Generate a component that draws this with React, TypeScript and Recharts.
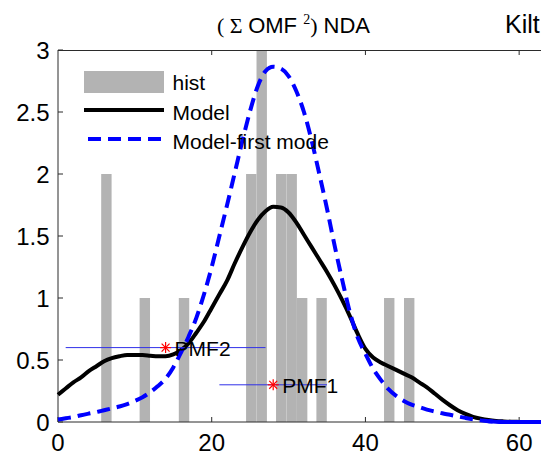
import React from 'react';
import { ComposedChart, Bar, Line, Scatter, ErrorBar, XAxis, YAxis, Legend } from 'recharts';

// ---- data ----
const histCenters = [6.3, 11.3, 16.4, 25.15, 26.51, 29.05, 30.41, 31.77, 34.3, 43.1, 45.7];
const histCounts = [2, 1, 1, 2, 3, 2, 2, 1, 1, 1, 1];

const curveX = [
  0, 1, 2, 3, 4, 5, 6, 7, 8, 9, 10, 11, 12, 13, 14, 15, 16, 17, 18, 19, 20,
  21, 22, 23, 24, 25, 26, 27, 28, 29, 30, 31, 32, 33, 34, 35, 36, 37, 38, 39, 40,
  41, 42, 43, 44, 45, 46, 47, 48, 49, 50, 51, 52, 53, 54, 55, 56, 57, 58, 59, 60,
  62, 66, 70,
];
const modelY = [
  0.22, 0.27, 0.32, 0.36, 0.41, 0.45, 0.49, 0.515, 0.53, 0.54, 0.54, 0.54, 0.535, 0.53, 0.53, 0.545, 0.58, 0.635, 0.72, 0.81, 0.92,
  1.03, 1.14, 1.28, 1.41, 1.53, 1.63, 1.7, 1.735, 1.73, 1.69, 1.61, 1.51, 1.41, 1.31, 1.21, 1.1, 0.98, 0.85, 0.71, 0.59,
  0.52, 0.48, 0.45, 0.42, 0.39, 0.36, 0.32, 0.28, 0.23, 0.18, 0.135, 0.095, 0.065, 0.042, 0.027, 0.016, 0.009, 0.005, 0.002, 0.001,
  0, 0, 0,
];
const firstModeY = [
  0.02, 0.03, 0.04, 0.055, 0.068, 0.08, 0.095, 0.11, 0.125, 0.145, 0.17, 0.2, 0.24, 0.29, 0.35, 0.44, 0.56, 0.69, 0.84, 1.03, 1.25,
  1.5, 1.75, 2.01, 2.27, 2.51, 2.71, 2.83, 2.865, 2.85, 2.79, 2.67, 2.5, 2.27, 2.0, 1.72, 1.42, 1.14, 0.88, 0.68, 0.55,
  0.43, 0.34, 0.265, 0.21, 0.17, 0.14, 0.12, 0.1, 0.085, 0.07, 0.058, 0.045, 0.033, 0.022, 0.013, 0.007, 0.003, 0.001, 0, 0,
  0, 0, 0,
];

const pmfNames = ['PMF2', 'PMF1'];
const pmfX = [14, 28];
const pmfY = [0.6, 0.3];
const pmfErr = [13, 7];

const xTicks = [0, 20, 40, 60];
const topTicks = [20, 40, 60];
const yTicks = [0, 0.5, 1, 1.5, 2, 2.5, 3];
const xMax = 70;
const yMax = 3;
const solidTailFrom = 56;
const legendLabels = ['hist', 'Model', 'Model-first mode'];
const titleParts = ['( \u03A3 ', 'OMF ', '2', ')', ' NDA'];
const sideTitle = 'Kilt';

// ---- derived tables ----
const histRows = histCenters.map((x, i) => ({ x, count: histCounts[i] }));
const curveRows = curveX.map((x, i) => ({
  x,
  model: modelY[i],
  first: firstModeY[i],
  tail: x >= solidTailFrom ? firstModeY[i] : null,
}));
const pmfRows = pmfX.map((x, i) => ({ x, y: pmfY[i], err: pmfErr[i], name: pmfNames[i] }));

// ---- layout ----
const W = 616;
const H = 455;
const PLOT_LEFT = 58;
const PLOT_TOP = 50;
const PLOT_RIGHT_MARGIN = 20;
const X_AXIS_H = 33;
const pxPerX = (W - PLOT_LEFT - PLOT_RIGHT_MARGIN) / xMax;

const SANS = 'Liberation Sans, Arial, sans-serif';
const SERIF = 'Liberation Serif, Times New Roman, serif';
const AXIS = '#2b2b2b';
const GRAY = '#b3b3b3';
const BLUE = '#0000ff';

const tickStyle = { fill: '#000', fontSize: 24, fontFamily: SANS };

const Star = (props: any) => {
  const { cx, cy, payload } = props;
  const r = 5.5;
  const d = r * 0.72;
  const s = { stroke: '#ff0000', strokeWidth: 1.2 };
  return (
    <g>
      <line x1={cx - r} y1={cy} x2={cx + r} y2={cy} {...s} />
      <line x1={cx} y1={cy - r} x2={cx} y2={cy + r} {...s} />
      <line x1={cx - d} y1={cy - d} x2={cx + d} y2={cy + d} {...s} />
      <line x1={cx - d} y1={cy + d} x2={cx + d} y2={cy - d} {...s} />
      <text x={cx + 9} y={cy + 8.5} fontSize={21} fontFamily={SANS} fill="#000">
        {payload.name}
      </text>
    </g>
  );
};

const renderLegend = () => (
  <svg width={300} height={92} style={{ display: 'block' }}>
    <rect x={4} y={7} width={80} height={22} fill={GRAY} />
    <text x={92.5} y={26} fontSize={21} fontFamily={SANS} fill="#000">{legendLabels[0]}</text>
    <line x1={4} x2={84} y1={46} y2={46} stroke="#000" strokeWidth={4} />
    <text x={92.5} y={56} fontSize={21} fontFamily={SANS} fill="#000">{legendLabels[1]}</text>
    <line x1={8} x2={84} y1={75} y2={75} stroke={BLUE} strokeWidth={4} strokeDasharray="13 7" />
    <text x={92.5} y={84.5} fontSize={21} fontFamily={SANS} fill="#000">{legendLabels[2]}</text>
  </svg>
);

export default function App() {
  return (
    <div
      style={{
        position: 'absolute',
        left: 0,
        top: 0,
        width: 541,
        height: 455,
        overflow: 'hidden',
        background: '#fff',
      }}
    >
      {/* histogram + axes */}
      <div style={{ position: 'absolute', left: 0, top: 0 }}>
        <ComposedChart
          width={W}
          height={H}
          data={histRows}
          margin={{ top: PLOT_TOP, right: PLOT_RIGHT_MARGIN, bottom: 0, left: 0 }}
        >
          <XAxis
            type="number"
            dataKey="x"
            domain={[0, xMax]}
            ticks={xTicks}
            interval={0}
            height={X_AXIS_H}
            tickSize={-5}
            tickMargin={17}
            stroke={AXIS}
            tick={tickStyle}
            allowDataOverflow
          />
          <YAxis
            type="number"
            domain={[0, yMax]}
            ticks={yTicks}
            interval={0}
            width={PLOT_LEFT}
            tickSize={-5}
            tickMargin={13.5}
            stroke={AXIS}
            tick={tickStyle}
            allowDataOverflow
          />
          <Bar dataKey="count" fill={GRAY} barSize={10.4} isAnimationActive={false} />
        </ComposedChart>
      </div>

      {/* curves, markers, legend */}
      <div style={{ position: 'absolute', left: 0, top: 0 }}>
        <ComposedChart
          width={W}
          height={H}
          data={curveRows}
          margin={{ top: PLOT_TOP, right: PLOT_RIGHT_MARGIN, bottom: X_AXIS_H, left: PLOT_LEFT }}
        >
          <XAxis type="number" dataKey="x" domain={[0, xMax]} hide />
          <YAxis type="number" domain={[0, yMax]} hide />
          <Line
            dataKey="model"
            type="monotone"
            stroke="#000"
            strokeWidth={4}
            dot={false}
            isAnimationActive={false}
          />
          <Line
            dataKey="first"
            type="monotone"
            stroke={BLUE}
            strokeWidth={4}
            strokeDasharray="13 7"
            dot={false}
            isAnimationActive={false}
          />
          <Line
            dataKey="tail"
            type="monotone"
            stroke={BLUE}
            strokeWidth={4}
            dot={false}
            legendType="none"
            isAnimationActive={false}
          />
          <Scatter data={pmfRows} dataKey="y" shape={<Star />} legendType="none" isAnimationActive={false}>
            <ErrorBar dataKey="err" direction="x" stroke="#3030e8" strokeWidth={1} width={0} />
          </Scatter>
          <Legend
            layout="vertical"
            align="center"
            verticalAlign="middle"
            content={renderLegend}
            wrapperStyle={{ position: 'absolute', left: 80, top: 64, width: 300, height: 92 }}
          />
        </ComposedChart>
      </div>

      {/* titles and top frame of the axes box */}
      <svg
        width={541}
        height={455}
        style={{ position: 'absolute', left: 0, top: 0, pointerEvents: 'none' }}
      >
        <line x1={PLOT_LEFT} x2={541} y1={PLOT_TOP + 0.5} y2={PLOT_TOP + 0.5} stroke={AXIS} strokeWidth={1} />
        {topTicks.map((t) => (
          <line
            key={t}
            x1={PLOT_LEFT + t * pxPerX}
            x2={PLOT_LEFT + t * pxPerX}
            y1={PLOT_TOP}
            y2={PLOT_TOP + 5}
            stroke={AXIS}
            strokeWidth={1}
          />
        ))}
        <text x={217} y={33} fontSize={22} fill="#000">
          <tspan fontFamily={SERIF}>{titleParts[0]}</tspan>
          <tspan fontFamily={SANS}>{titleParts[1]}</tspan>
          <tspan fontFamily={SERIF} fontSize={14} dy={-9}>{titleParts[2]}</tspan>
          <tspan fontFamily={SERIF} dy={9}>{titleParts[3]}</tspan>
          <tspan fontFamily={SANS}>{titleParts[4]}</tspan>
        </text>
        <text x={505} y={33} fontSize={25} fontFamily={SANS} fill="#000">{sideTitle}</text>
      </svg>
    </div>
  );
}
